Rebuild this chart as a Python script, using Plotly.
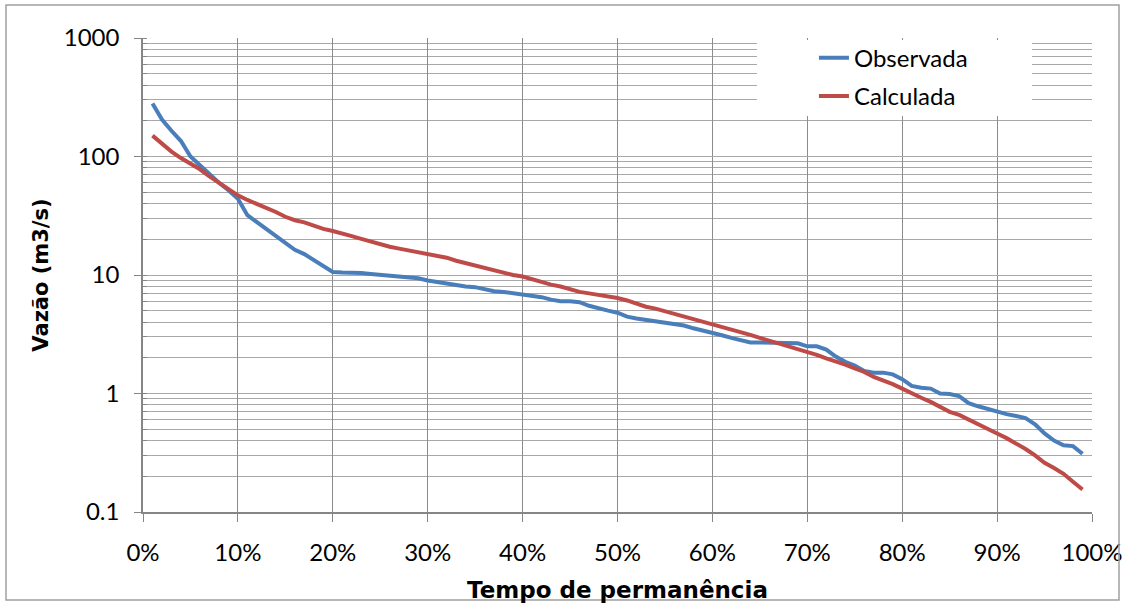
import plotly.graph_objects as go

# Tempo de permanência (%)
permanencia = list(range(1, 100))

# Vazão observada (m3/s)
observada = [
    280, 205, 165, 135, 100, 84, 71, 60, 52, 44,
    32, 28, 24, 21, 18.5, 16.3, 15, 13.4, 12, 10.6,
    10.5, 10.5, 10.4, 10.2, 10, 9.8, 9.6, 9.5, 9.4, 9.0,
    8.7, 8.5, 8.2, 8.0, 7.9, 7.6, 7.3, 7.2, 7.0, 6.8,
    6.7, 6.5, 6.2, 6.0, 6.0, 5.9, 5.5, 5.2, 5.0, 4.8,
    4.45, 4.3, 4.2, 4.1, 4.0, 3.9, 3.75, 3.55, 3.4, 3.3,
    3.1, 2.95, 2.8, 2.7, 2.7, 2.7, 2.7, 2.7, 2.65, 2.5,
    2.5, 2.35, 2.05, 1.85, 1.72, 1.55, 1.5, 1.5, 1.45, 1.32,
    1.16, 1.12, 1.1, 1.0, 0.99, 0.95, 0.83, 0.78, 0.74, 0.71,
    0.67, 0.645, 0.62, 0.55, 0.46, 0.4, 0.366, 0.36, 0.31,
]

# Vazão calculada (m3/s)
calculada = [
    150, 128, 110, 97, 87, 78, 68, 60, 53, 47,
    43, 40, 37, 34, 31, 29, 27.8, 26, 24.5, 23.5,
    22.5, 21.3, 20.2, 19.1, 18.3, 17.3, 16.7, 16.1, 15.6, 15.1,
    14.5, 14.0, 13.2, 12.6, 12.0, 11.5, 10.8, 10.4, 10.0, 9.7,
    9.2, 8.7, 8.3, 8.0, 7.6, 7.2, 7.0, 6.8, 6.6, 6.4,
    6.1, 5.7, 5.4, 5.2, 4.95, 4.7, 4.45, 4.2, 4.0, 3.85,
    3.65, 3.48, 3.3, 3.12, 2.95, 2.8, 2.63, 2.5, 2.35, 2.25,
    2.12, 1.98, 1.88, 1.75, 1.63, 1.52, 1.38, 1.3, 1.2, 1.1,
    1.0, 0.92, 0.85, 0.77, 0.7, 0.66, 0.6, 0.55, 0.5, 0.46,
    0.42, 0.38, 0.34, 0.3, 0.26, 0.235, 0.21, 0.18, 0.155,
]

x_ticks = list(range(0, 101, 10))
x_ticktext = [f"{v}%" for v in x_ticks]
y_ticks = [0.1, 1, 10, 100, 1000]
y_ticktext = ["0.1", "1", "10", "100", "1000"]

FONT = "Lato"
TITLE_FONT = "DejaVu Sans"
GRID = "#a8a8a8"
AXIS = "#868686"

fig = go.Figure()
fig.add_trace(go.Scatter(
    x=permanencia, y=observada, mode="lines", name="Observada",
    line=dict(color="#4A7EBB", width=4), legendgroup="obs",
))
fig.add_trace(go.Scatter(
    x=permanencia, y=calculada, mode="lines", name="Calculada",
    line=dict(color="#BE4B48", width=4), legendgroup="calc",
))

fig.update_layout(
    width=1125, height=605,
    margin=dict(l=143, r=33, t=38, b=93),
    paper_bgcolor="white", plot_bgcolor="white",
    font=dict(family=FONT, size=24, color="#000000"),
    showlegend=True,
    legend=dict(
        x=0.707, y=1.005, xanchor="left", yanchor="top",
        bgcolor="rgba(0,0,0,0)", borderwidth=0,
        font=dict(family=FONT, size=24, color="#000000"),
        tracegroupgap=4, traceorder="grouped",
    ),
    shapes=[
        # white legend backdrop over the gridlines
        dict(type="rect", xref="paper", yref="paper",
             x0=(757 - 143) / 949, x1=(1032 - 143) / 949,
             y0=(512 - 116) / 474, y1=(512 - 40) / 474,
             fillcolor="white", line=dict(width=0), layer="above"),
        # chart frame
        dict(type="rect", xref="paper", yref="paper",
             x0=(6 - 143) / 949, x1=(1119 - 143) / 949,
             y0=(512 - 600) / 474, y1=(512 - 5) / 474,
             fillcolor="rgba(0,0,0,0)", line=dict(color="#a0a0a0", width=1.5),
             layer="above"),
    ],
)

fig.update_xaxes(
    range=[0, 100], tickmode="array", tickvals=x_ticks, ticktext=x_ticktext,
    showgrid=True, gridcolor="#8c8c8c", gridwidth=1,
    minor=dict(showgrid=False, ticks=""),
    showline=True, linecolor=AXIS, linewidth=1.5,
    ticks="outside", ticklen=8, tickcolor=AXIS, ticklabelstandoff=10,
    tickfont=dict(family=FONT, size=24),
    zeroline=False, automargin=False,
    title=dict(text="<b>Tempo de permanência</b>",
               font=dict(family=TITLE_FONT, size=23), standoff=17),
)

fig.update_yaxes(
    type="log", range=[-1, 3], tickmode="array", tickvals=y_ticks, ticktext=y_ticktext,
    showgrid=True, gridcolor=GRID, gridwidth=1,
    showline=True, linecolor=AXIS, linewidth=1.5,
    ticks="outside", ticklen=7, tickcolor=AXIS, ticklabelstandoff=10,
    tickfont=dict(family=FONT, size=24),
    minor=dict(dtick="D1", showgrid=True, gridcolor=GRID, gridwidth=1,
               ticks="inside", ticklen=4, tickcolor=AXIS),
    zeroline=False, automargin=False,
    title=dict(text="<b>Vazão (m3/s)</b>",
               font=dict(family=TITLE_FONT, size=21), standoff=9),
)

fig.write_html("out.html")
